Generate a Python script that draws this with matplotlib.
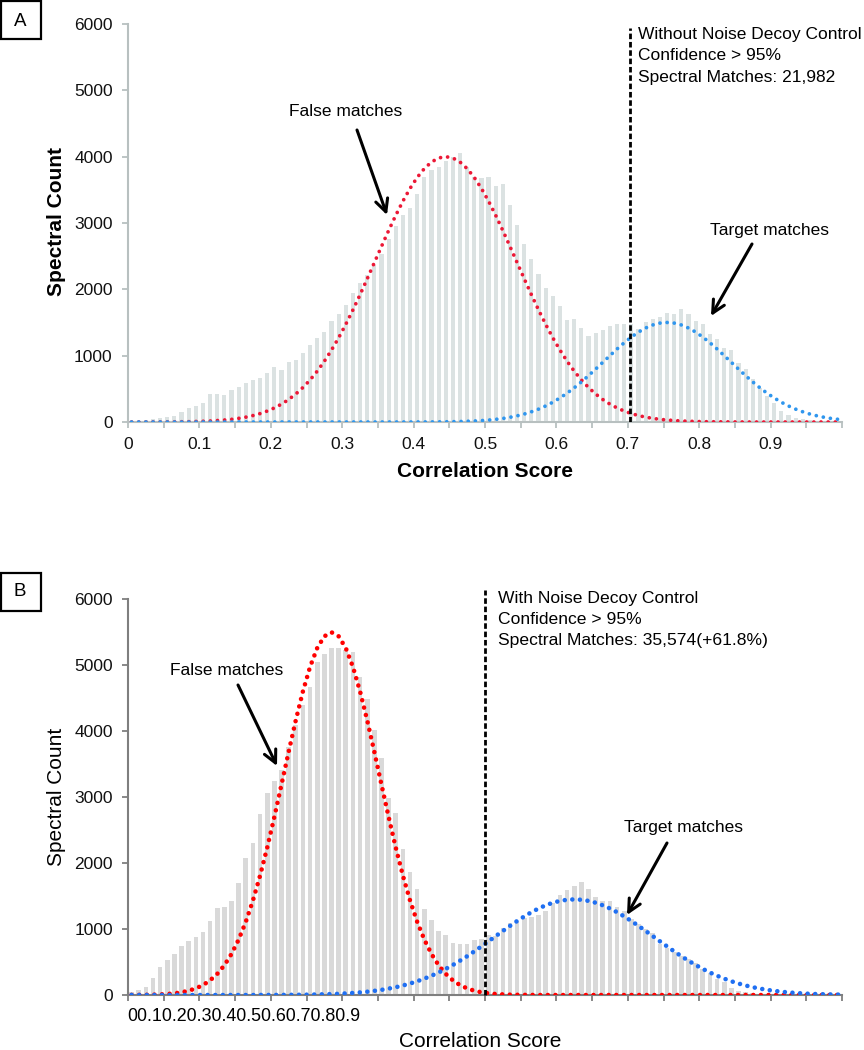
import numpy as np
import matplotlib
matplotlib.use("Agg")
import matplotlib.pyplot as plt
from matplotlib.patches import Rectangle

plt.rcParams['font.family'] = ['Liberation Sans', 'DejaVu Sans']

# ---------------- data ----------------
bin_width = 0.01
n_bins = 100
bin_centers = (np.arange(n_bins) + 0.5) * bin_width   # correlation score bins

xtick_labels = ['0', '0.1', '0.2', '0.3', '0.4', '0.5', '0.6', '0.7', '0.8', '0.9']
ytick_values = [0, 1000, 2000, 3000, 4000, 5000, 6000]

# Panel A: without noise decoy control
counts_a = [10, 20, 30, 50, 60, 80, 90, 150, 216, 236,
            292, 417, 417, 402, 478, 528, 593, 639, 669, 744,
            825, 780, 910, 935, 1045, 1160, 1270, 1360, 1520, 1630,
            1770, 1950, 2100, 2210, 2360, 2540, 2765, 2950, 3120, 3220,
            3434, 3700, 3795, 3850, 3940, 3997, 4060, 3850, 3690, 3680,
            3700, 3558, 3583, 3270, 2968, 2682, 2464, 2227, 2021, 1896,
            1750, 1544, 1559, 1423, 1297, 1347, 1383, 1448, 1473, 1473,
            1480, 1400, 1515, 1559, 1590, 1644, 1630, 1697, 1634, 1530,
            1483, 1320, 1250, 1120, 1080, 885, 800, 650, 510, 390,
            290, 170, 100, 65, 45, 25, 15, 10, 5, 5]
false_fit_a = [0, 0, 0, 1, 1, 2, 3, 4, 5, 8,
               11, 15, 22, 30, 40, 55, 73, 97, 127, 165,
               212, 269, 339, 422, 520, 634, 766, 916, 1084, 1269,
               1472, 1689, 1919, 2158, 2402, 2646, 2886, 3115, 3329, 3521,
               3686, 3820, 3919, 3980, 4000, 3980, 3919, 3820, 3686, 3521,
               3329, 3115, 2886, 2646, 2402, 2158, 1919, 1689, 1472, 1269,
               1084, 916, 766, 634, 520, 422, 339, 269, 212, 165,
               127, 97, 73, 55, 40, 30, 22, 15, 11, 8,
               5, 4, 3, 2, 1, 1, 0, 0, 0, 0,
               0, 0, 0, 0, 0, 0, 0, 0, 0, 0]
target_fit_a = [0, 0, 0, 0, 0, 0, 0, 0, 0, 0,
                0, 0, 0, 0, 0, 0, 0, 0, 0, 0,
                0, 0, 0, 0, 0, 0, 0, 0, 0, 0,
                0, 0, 0, 0, 0, 0, 0, 0, 0, 0,
                1, 1, 1, 2, 3, 5, 7, 11, 15, 21,
                29, 40, 53, 71, 93, 120, 154, 194, 242, 298,
                363, 435, 516, 604, 699, 798, 900, 1001, 1101, 1195,
                1281, 1356, 1417, 1463, 1491, 1500, 1491, 1463, 1417, 1356,
                1281, 1195, 1101, 1001, 900, 798, 699, 604, 516, 435,
                363, 298, 242, 194, 154, 120, 93, 71, 53, 40]
threshold_a = 0.703

# Panel B: with noise decoy control
counts_b = [40, 70, 126, 253, 430, 531, 622, 748, 819, 874,
            950, 1127, 1324, 1334, 1430, 1698, 2082, 2300, 2739, 3068,
            3245, 3411, 3765, 4094, 4397, 4665, 5044, 5165, 5254, 5268,
            5230, 5206, 4827, 4484, 4018, 3589, 2983, 2754, 2209, 1870,
            1600, 1305, 1130, 975, 915, 783, 780, 780, 834, 847,
            910, 900, 1010, 1085, 1115, 1162, 1188, 1213, 1275, 1400,
            1516, 1597, 1648, 1710, 1602, 1491, 1420, 1422, 1330, 1275,
            1150, 1075, 1000, 935, 780, 720, 655, 585, 545, 480,
            390, 330, 250, 190, 105, 60, 40, 25, 15, 12,
            10, 8, 6, 5, 5, 4, 3, 3, 2, 2]
false_fit_b = [1, 2, 3, 5, 9, 15, 25, 41, 65, 100,
               150, 222, 320, 451, 623, 841, 1110, 1434, 1811, 2236,
               2701, 3191, 3687, 4166, 4604, 4976, 5261, 5439, 5500, 5439,
               5261, 4976, 4604, 4166, 3687, 3191, 2701, 2236, 1811, 1434,
               1110, 841, 623, 451, 320, 222, 150, 100, 65, 41,
               25, 15, 9, 5, 3, 2, 1, 0, 0, 0,
               0, 0, 0, 0, 0, 0, 0, 0, 0, 0,
               0, 0, 0, 0, 0, 0, 0, 0, 0, 0,
               0, 0, 0, 0, 0, 0, 0, 0, 0, 0,
               0, 0, 0, 0, 0, 0, 0, 0, 0, 0]
target_fit_b = [0, 0, 0, 0, 0, 0, 0, 0, 0, 0,
                0, 0, 0, 0, 0, 0, 0, 0, 1, 1,
                1, 2, 2, 3, 4, 6, 8, 11, 14, 18,
                24, 31, 39, 50, 63, 78, 97, 118, 144, 174,
                208, 248, 292, 341, 396, 455, 520, 588, 661, 737,
                814, 893, 971, 1048, 1122, 1191, 1255, 1312, 1360, 1399,
                1427, 1444, 1450, 1444, 1427, 1399, 1360, 1312, 1255, 1191,
                1122, 1048, 971, 893, 814, 737, 661, 588, 520, 455,
                396, 341, 292, 248, 208, 174, 144, 118, 97, 78,
                63, 50, 39, 31, 24, 18, 14, 11, 8, 6]
threshold_b = 0.5

# ---------------- figure ----------------
W, H = 864, 1050
fig = plt.figure(figsize=(W / 100, H / 100), dpi=100)


def fx(px):
    return px / W


def fy(py):
    return 1 - py / H


axA = fig.add_axes([fx(128), fy(422), 714 / W, 398 / H])
axB = fig.add_axes([fx(128), fy(995), 714 / W, 395.7 / H])

tick_pos = np.arange(0, 1.0001, 0.05)

# ---- Panel A ----
gA = '#b8c0c0'
axA.bar(bin_centers, counts_a, width=0.0058, color='#dbe2e2', zorder=1)
axA.plot(bin_centers, false_fit_a, color='#ec1836', lw=2.7,
         linestyle=(0, (0.01, 1.9)), dash_capstyle='round', zorder=4)
axA.plot(bin_centers, target_fit_a, color='#2f96ee', lw=2.7,
         linestyle=(0, (0.01, 1.9)), dash_capstyle='round', zorder=4)
axA.vlines(threshold_a, 0, 5940, colors='black', lw=2.0,
           linestyles=(0, (2, 1)), zorder=5)
axA.set_xlim(0, 1.0)
axA.set_ylim(0, 6000)
axA.set_xticks(tick_pos)
axA.set_xticklabels([xtick_labels[k // 2] if (k % 2 == 0 and k // 2 < len(xtick_labels)) else ''
                     for k in range(len(tick_pos))])
axA.set_yticks(ytick_values)
axA.set_yticklabels([str(v) for v in ytick_values])
for s in ['top', 'right']:
    axA.spines[s].set_visible(False)
for s in ['left', 'bottom']:
    axA.spines[s].set_color(gA)
    axA.spines[s].set_linewidth(1.5)
axA.tick_params(axis='both', direction='out', length=4, width=1.3, color=gA,
                labelsize=12.5, pad=7, labelcolor='#111111')

fig.text(fx(57), fy(222), 'Spectral Count', rotation=90, ha='center', va='center',
         fontsize=15, fontweight='bold')
fig.text(fx(485), fy(477), 'Correlation Score', ha='center', va='baseline',
         fontsize=15, fontweight='bold')

for txt, yb in [('Without Noise Decoy Control', 39.3), ('Confidence > 95%', 60.5),
                ('Spectral Matches: 21,982', 81.7)]:
    fig.text(fx(638), fy(yb), txt, ha='left', va='baseline', fontsize=12.5)

fig.text(fx(346), fy(116), 'False matches', ha='center', va='baseline', fontsize=12.5)
fig.text(fx(769), fy(235), 'Target matches', ha='center', va='baseline', fontsize=12.5)

arrow_kw = dict(arrowstyle='->,head_length=0.9,head_width=0.45', lw=2.2, color='black',
                shrinkA=0, shrinkB=0)
fig.add_artist(plt.Annotation('', xy=(387, H - 215), xytext=(357, H - 130),
                              xycoords='figure pixels', textcoords='figure pixels',
                              arrowprops=arrow_kw))
fig.add_artist(plt.Annotation('', xy=(711, H - 316), xytext=(752, H - 244),
                              xycoords='figure pixels', textcoords='figure pixels',
                              arrowprops=arrow_kw))

# ---- Panel B ----
gB = '#7f7f7f'
axB.bar(bin_centers, counts_b, width=0.0065, color='#d9d9d9', zorder=1)
axB.plot(bin_centers, false_fit_b, color='#ff0000', lw=3.3,
         linestyle=(0, (0.01, 1.65)), dash_capstyle='round', zorder=4)
axB.plot(bin_centers, target_fit_b, color='#1f6ff2', lw=3.3,
         linestyle=(0, (0.01, 1.65)), dash_capstyle='round', zorder=4)
axB.vlines(threshold_b, 0, 6140, colors='black', lw=2.0,
           linestyles=(0, (2, 1)), zorder=5, clip_on=False)
axB.set_xlim(0, 1.0)
axB.set_ylim(0, 6000)
axB.set_xticks(tick_pos)
axB.set_xticklabels([])
axB.set_yticks(ytick_values)
axB.set_yticklabels([str(v) for v in ytick_values])
for s in ['top', 'right']:
    axB.spines[s].set_visible(False)
for s in ['left', 'bottom']:
    axB.spines[s].set_color(gB)
    axB.spines[s].set_linewidth(1.5)
axB.tick_params(axis='both', direction='out', length=4.5, width=1.3, color=gB,
                labelsize=12.5, pad=6.3, labelcolor='#111111')

# crowded x tick labels as in the original
fig.text(fx(127), fy(1021), ''.join(xtick_labels), ha='left', va='baseline', fontsize=12.9)

fig.text(fx(56), fy(797), 'Spectral Count', rotation=90, ha='center', va='center',
         fontsize=15)
fig.text(fx(480), fy(1047), 'Correlation Score', ha='center', va='baseline', fontsize=15)

for txt, yb in [('With Noise Decoy Control', 603.3), ('Confidence > 95%', 624.3),
                ('Spectral Matches: 35,574(+61.8%)', 645.3)]:
    fig.text(fx(498.5), fy(yb), txt, ha='left', va='baseline', fontsize=12.6)

fig.text(fx(227), fy(675), 'False matches', ha='center', va='baseline', fontsize=12.5)
fig.text(fx(684), fy(832), 'Target matches', ha='center', va='baseline', fontsize=12.5)

fig.add_artist(plt.Annotation('', xy=(277, H - 766), xytext=(238, H - 685),
                              xycoords='figure pixels', textcoords='figure pixels',
                              arrowprops=arrow_kw))
fig.add_artist(plt.Annotation('', xy=(627, H - 915), xytext=(667, H - 843),
                              xycoords='figure pixels', textcoords='figure pixels',
                              arrowprops=arrow_kw))

# ---- panel letter boxes ----
for letter, top, bottom, yc in [('A', 1, 39, 21.7), ('B', 573, 611, 591.7)]:
    fig.add_artist(Rectangle((fx(1), fy(bottom)), 40 / W, (bottom - top) / H,
                             transform=fig.transFigure, fill=False, lw=1.6,
                             edgecolor='black'))
    fig.text(fx(20), fy(yc), letter, ha='center', va='center', fontsize=13.5)

fig.savefig('out.png', dpi=100)
